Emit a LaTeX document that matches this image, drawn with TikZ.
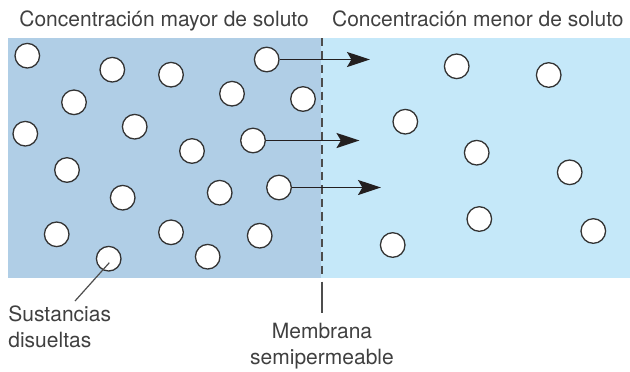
\documentclass[tikz,border=0pt]{standalone}
\usepackage{fontspec}
\setmainfont{TeX Gyre Heros}
\usetikzlibrary{arrows.meta,calc}

\definecolor{highside}{HTML}{B0CEE6}
\definecolor{lowside}{HTML}{C5E8F9}
\definecolor{inkgray}{HTML}{333333}
\definecolor{textgray}{HTML}{404040}
\definecolor{linegray}{HTML}{4D4D4D}
\definecolor{arrowink}{HTML}{231F20}

\begin{document}
\begin{tikzpicture}[
        x=0.5pt, y=-0.5pt,
        every node/.style={font=\fontsize{10.5}{13}\selectfont, text=textgray},
        solute/.style={
            circle,
            draw=inkgray,
            fill=white,
            line width=0.65pt,
            minimum size=12.3pt,
            inner sep=0pt
        },
        label/.style={inner sep=0pt},
        flux/.style={
            draw=arrowink,
            line width=0.9pt,
            -{Stealth[length=11.5pt,width=7.5pt,inset=2.2pt]}
        },
        membrane/.style={
            draw=linegray,
            line width=0.8pt,
            dash pattern=on 4.2pt off 2.5pt
        },
        leader/.style={draw=linegray, line width=0.6pt}
    ]

    \useasboundingbox (0,0) rectangle (630,371);

    % Two compartments
    \fill[highside] (8,38) rectangle (321,277.5);
    \fill[lowside] (321,38) rectangle (630,277.5);

    % Titles
    \node[label, anchor=base west] (hightitle) at (19,26.7) {Concentración mayor de soluto};
    \node[label, anchor=base west] (lowtitle) at (331.7,26.7) {Concentración menor de soluto};

    % Membrane
    \coordinate (mtop) at (322,38);
    \coordinate (mbot) at (322,277.5);
    \coordinate (mlead) at (322,281.7);
    \coordinate (mend) at (322,312.7);
    \draw[membrane] (mtop) -- (mbot);
    \draw[leader, line width=0.8pt] (mlead) -- (mend);

    % Solutes, high concentration side
    \node[solute] (l1)  at (27.3,55.7) {};
    \node[solute] (l2)  at (112.3,69.7) {};
    \node[solute] (l3)  at (171,74.7) {};
    \node[solute] (l4)  at (266.7,59.5) {};
    \node[solute] (l5)  at (74,102.3) {};
    \node[solute] (l6)  at (232,93.7) {};
    \node[solute] (l7)  at (303,99) {};
    \node[solute] (l8)  at (25.3,133.7) {};
    \node[solute] (l9)  at (134.7,126.7) {};
    \node[solute] (l10) at (253,140.5) {};
    \node[solute] (l11) at (192,151) {};
    \node[solute] (l12) at (67,170) {};
    \node[solute] (l13) at (122.7,197.7) {};
    \node[solute] (l14) at (219.7,192.7) {};
    \node[solute] (l15) at (279,187.5) {};
    \node[solute] (l16) at (56.7,234.3) {};
    \node[solute] (l17) at (171,232.3) {};
    \node[solute] (l18) at (259.7,235.7) {};
    \node[solute] (l19) at (108.7,258.7) {};
    \node[solute] (l20) at (207.7,256.7) {};

    % Solutes, low concentration side
    \node[solute] (r1) at (456.7,66.3) {};
    \node[solute] (r2) at (548.7,75) {};
    \node[solute] (r3) at (405.3,121.7) {};
    \node[solute] (r4) at (476.7,152.7) {};
    \node[solute] (r5) at (569.7,172.3) {};
    \node[solute] (r6) at (479.3,219) {};
    \node[solute] (r7) at (593.3,231) {};
    \node[solute] (r8) at (392.7,245) {};

    % Diffusion arrows
    \coordinate (t1) at (370,59.5);
    \coordinate (t2) at (359.5,140.5);
    \coordinate (t3) at (381,187.5);
    \draw[flux] (l4) -- (t1);
    \draw[flux] (l10) -- (t2);
    \draw[flux] (l15) -- (t3);

    % Labels
    \coordinate (sfoot) at (75,301);
    \draw[leader] ($(l19.center)+(0.6,4)$) -- (sfoot);
    \node[label, anchor=north west, align=left] (solutes) at (8,305.5) {Sustancias\\disueltas};
    \node[label, anchor=north, align=center] (membranelabel) at (322,322.5) {Membrana\\semipermeable};

\end{tikzpicture}
\end{document}
